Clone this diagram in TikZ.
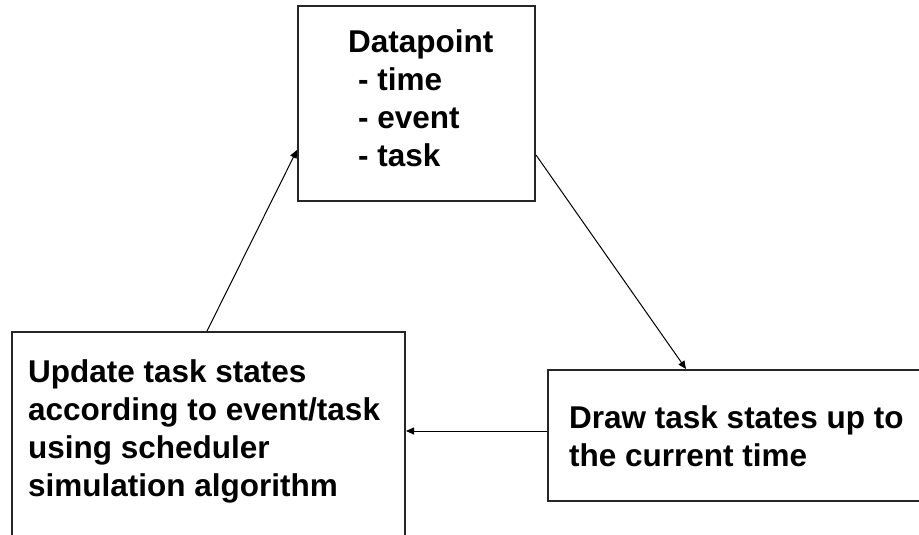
\documentclass[tikz,border=0pt]{standalone}
\usepackage{fontspec}
\setmainfont{Liberation Sans}
\usetikzlibrary{arrows.meta,calc}
\begin{document}
\begin{tikzpicture}[x=1pt,y=-1pt,
  box/.style={draw=black!85,line width=2pt,fill=white,inner sep=0pt,anchor=north west},
  txt/.style={anchor=north west,inner sep=0pt,align=left,font=\fontsize{31.5}{38}\selectfont\bfseries},
  conn/.style={line width=1pt,-{Triangle[length=8pt,width=7pt]}}]
\useasboundingbox (0,0) rectangle (919,535);
\clip (0,0) rectangle (919,535);
\fill[white] (0,0) rectangle (919,535);
\node[box,minimum width=237pt,minimum height=195pt] (dp) at (297,5) {};
\node[box,minimum width=393pt,minimum height=240pt] (lb) at (11,331) {};
\node[box,minimum width=400pt,minimum height=131pt] (rb) at (547,369) {};
\node[txt] (dpt) at (348,29) {Datapoint\\\hspace*{10pt}- time\\\hspace*{10pt}- event\\\hspace*{10pt}- task};
\node[txt] (lbt) at (28,359) {Update task states\\according to event/task\\using scheduler\\simulation algorithm};
\node[txt] (rbt) at (569,405) {Draw task states up to\\the current time};
\draw[conn] ([yshift=47pt]dp.south east) -- ([xshift=139pt]rb.north west);
\draw[conn] ([yshift=-62pt]rb.north west) -- ([yshift=-100pt]lb.north east);
\draw[conn] ([xshift=196pt]lb.north west) -- ([yshift=52pt]dp.south west);
\end{tikzpicture}
\end{document}
